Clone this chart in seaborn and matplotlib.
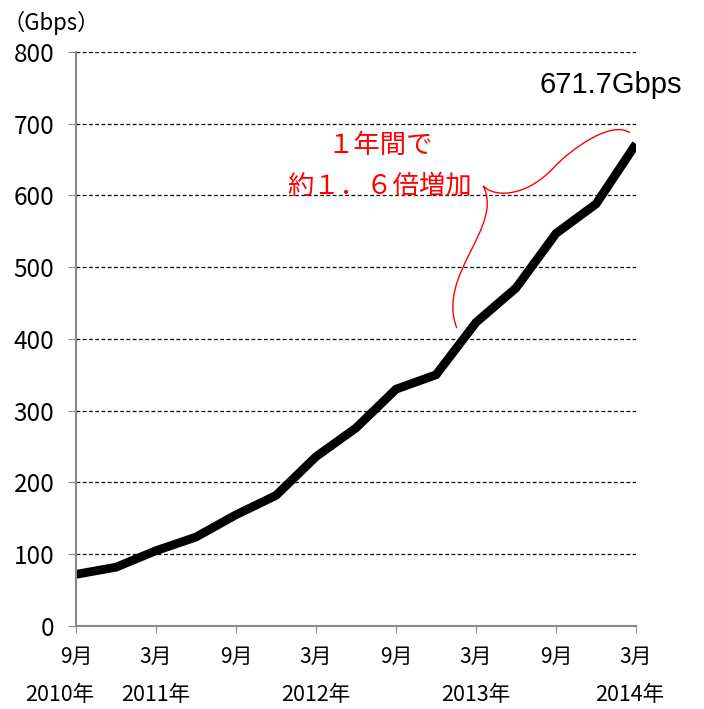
import numpy as np
import pandas as pd
import seaborn as sns
import matplotlib.pyplot as plt
from matplotlib.path import Path
from matplotlib.patches import PathPatch

# quarterly traffic, Sep 2010 -> Mar 2014
periods = ["2010-09", "2010-12", "2011-03", "2011-06", "2011-09", "2011-12", "2012-03", "2012-06",
           "2012-09", "2012-12", "2013-03", "2013-06", "2013-09", "2013-12", "2014-03"]
traffic = [72, 82, 105, 124, 155, 182, 236, 276, 330, 350, 423, 471, 547, 588, 671.7]

month_ticks = [0, 2, 4, 6, 8, 10, 12, 14]
month_labels = ["9月", "3月", "9月", "3月", "9月", "3月", "9月", "3月"]
year_labels = ["2010年", "2011年", "2012年", "2013年", "2014年"]
year_pos = [-0.4, 2, 6, 10, 13.83]

df = pd.DataFrame({"period": periods, "traffic": traffic})
df["idx"] = np.arange(len(df))

sns.set_style("white")
plt.rcParams['font.family'] = ['Noto Sans CJK JP', 'DejaVu Sans']
plt.rcParams['text.color'] = 'black'
plt.rcParams['xtick.labelcolor'] = 'black'
plt.rcParams['ytick.labelcolor'] = 'black'

fig = plt.figure(figsize=(7.04, 7.09), dpi=100)
ax = fig.add_axes([0.108, 0.117, 0.7955, 0.81])

ax.set_axisbelow(True)
sns.lineplot(data=df, x="idx", y="traffic", color="black", linewidth=6.3, ax=ax,
             solid_joinstyle="miter", solid_capstyle="butt")

ax.set_xlim(0, 14)
ax.set_ylim(0, 800)
ax.set_yticks(range(0, 801, 100))
ax.yaxis.grid(True, color="black", linestyle=(0, (3, 2)), linewidth=0.9)
ax.xaxis.grid(False)
ax.set_xticks(month_ticks)
ax.set_xticklabels(month_labels, fontsize=15)
ax.tick_params(axis="y", labelsize=17.5, length=5.5, color="#888888", direction="out", left=True, pad=10)
ax.tick_params(axis="x", length=5, color="#888888", direction="out", bottom=True, pad=9)
ax.set_xlabel("")
ax.set_ylabel("")
for s in ["top", "right"]:
    ax.spines[s].set_visible(False)
for s in ["left", "bottom"]:
    ax.spines[s].set_color("#888888")
    ax.spines[s].set_linewidth(1.5)

for lab, p in zip(year_labels, year_pos):
    ax.text(p, -0.12, lab, transform=ax.get_xaxis_transform(), ha="center", va="center", fontsize=15.5)

fig.text(0.004, 0.968, "（Gbps）", fontsize=16, ha="left", va="center")

ax.text(13.375, 754, "671.7Gbps", fontsize=21, ha="center", va="center", family="Liberation Sans")
ax.text(7.6, 670, "１年間で", fontsize=19, color="red", ha="center", va="center")
ax.text(7.6, 613, "約１．６倍増加", fontsize=19, color="red", ha="center", va="center")

# red brace from Mar 2013 to Mar 2014
verts = [(9.52, 415), (9.0, 490), (10.7, 555), (10.18, 613),
         (10.5, 595), (11.3, 600), (11.93, 638),
         (12.4, 666), (13.4, 705), (13.85, 687)]
codes = [Path.MOVETO] + [Path.CURVE4] * 9
ax.add_patch(PathPatch(Path(verts, codes), facecolor="none", edgecolor="red", linewidth=1, clip_on=False))

fig.savefig("out.png", dpi=100)
